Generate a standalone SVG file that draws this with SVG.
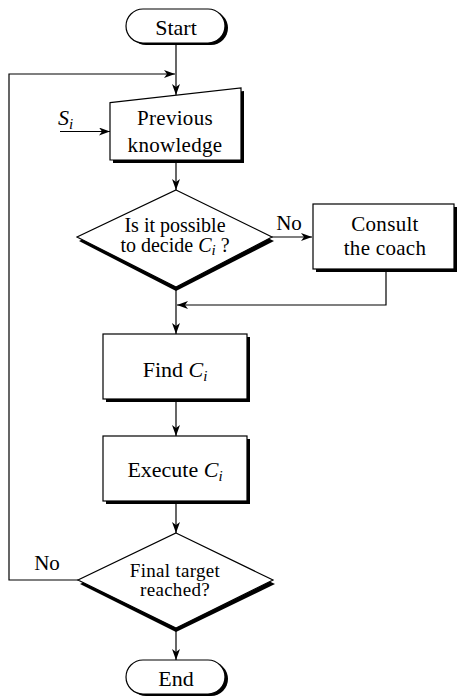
<svg xmlns="http://www.w3.org/2000/svg" width="457" height="697" viewBox="0 0 457 697">
<defs>
<style>
.sh{fill:#000;stroke:none}
.nd{fill:#fff;stroke:#000;stroke-width:1.2}
.t{font-family:"Liberation Serif","Times New Roman",serif;font-size:22px;fill:#000;text-anchor:middle}
.m{font-size:21px;letter-spacing:0.3px}
.d{font-size:20px}
.d2{font-size:19px;letter-spacing:0.3px}
.it{font-style:italic}
.sub{font-size:15px;font-style:italic}
.c{fill:none;stroke:#000;stroke-width:1.2}
</style>
<marker id="ah" markerWidth="12" markerHeight="10" refX="11" refY="4" orient="auto" markerUnits="userSpaceOnUse">
<path d="M0,0 L11,4 L0,8 L3,4 z" fill="#000"/>
</marker>
</defs>
<rect width="457" height="697" fill="#fff"/>

<g id="connectors">
<line class="c" x1="176" y1="43" x2="176" y2="95" marker-end="url(#ah)"/>
<polyline class="c" points="78,580 9,580 9,74 175,74" marker-end="url(#ah)"/>
<line class="c" x1="60" y1="131.5" x2="110" y2="131.5" marker-end="url(#ah)"/>
<line class="c" x1="176" y1="162" x2="176" y2="190" marker-end="url(#ah)"/>
<line class="c" x1="272" y1="237" x2="312" y2="237" marker-end="url(#ah)"/>
<polyline class="c" points="386,271 386,305 177,305" marker-end="url(#ah)"/>
<line class="c" x1="176" y1="290" x2="176" y2="334" marker-end="url(#ah)"/>
<line class="c" x1="176" y1="402" x2="176" y2="436" marker-end="url(#ah)"/>
<line class="c" x1="176" y1="504" x2="176" y2="533" marker-end="url(#ah)"/>
<line class="c" x1="176" y1="631" x2="176" y2="660" marker-end="url(#ah)"/>
<text class="t" x="289" y="230" style="font-size:21px">No</text>
<text class="t" x="47" y="570" style="font-size:21px">No</text>
<text class="t it" x="58" y="125" style="text-anchor:start">S<tspan class="sub" dy="4">i</tspan></text>
</g>

<g id="start">
<rect class="sh" x="129" y="11" width="99" height="34" rx="17"/>
<rect class="nd" x="126" y="9" width="99" height="34" rx="17"/>
<text class="t" x="176" y="35">Start</text>
</g>

<g id="previous-knowledge">
<polygon class="sh" points="113,105.7 244,91 244,163 113,163"/>
<polygon class="nd" points="110,102.7 241,88 241,160 110,160"/>
<text class="t m" x="175" y="125">Previous</text>
<text class="t m" x="175" y="152">knowledge</text>
</g>

<g id="decide">
<polygon class="sh" points="176,194 274,241 176,291 79,241"/>
<polygon class="nd" points="176,190 272,237 176,287 77,237"/>
<text class="t d" x="175" y="232">Is it possible</text>
<text class="t d" x="175" y="252">to decide <tspan class="it">C</tspan><tspan class="sub" dy="3">i</tspan><tspan dy="-3"> ?</tspan></text>
</g>

<g id="consult">
<rect class="sh" x="316" y="207" width="141" height="65"/>
<rect class="nd" x="313" y="204" width="141" height="65"/>
<text class="t m" x="385" y="231">Consult</text>
<text class="t m" x="385" y="255">the coach</text>
</g>

<g id="find">
<rect class="sh" x="106" y="337" width="144" height="65"/>
<rect class="nd" x="103" y="334" width="144" height="65"/>
<text class="t" x="175" y="377">Find <tspan class="it">C</tspan><tspan class="sub" dy="4">i</tspan></text>
</g>

<g id="execute">
<rect class="sh" x="106" y="439" width="144" height="65"/>
<rect class="nd" x="103" y="436" width="144" height="65"/>
<text class="t" x="175" y="477">Execute <tspan class="it">C</tspan><tspan class="sub" dy="4">i</tspan></text>
</g>

<g id="final-target">
<polygon class="sh" points="176,537 275,584 176,632 80,584"/>
<polygon class="nd" points="176,533 273,580 176,628 78,580"/>
<text class="t d2" x="175" y="577">Final target</text>
<text class="t d2" x="175" y="596">reached?</text>
</g>

<g id="end">
<rect class="sh" x="129" y="662" width="99" height="34" rx="17"/>
<rect class="nd" x="126" y="660" width="99" height="34" rx="17"/>
<text class="t" x="176" y="686">End</text>
</g>
</svg>
